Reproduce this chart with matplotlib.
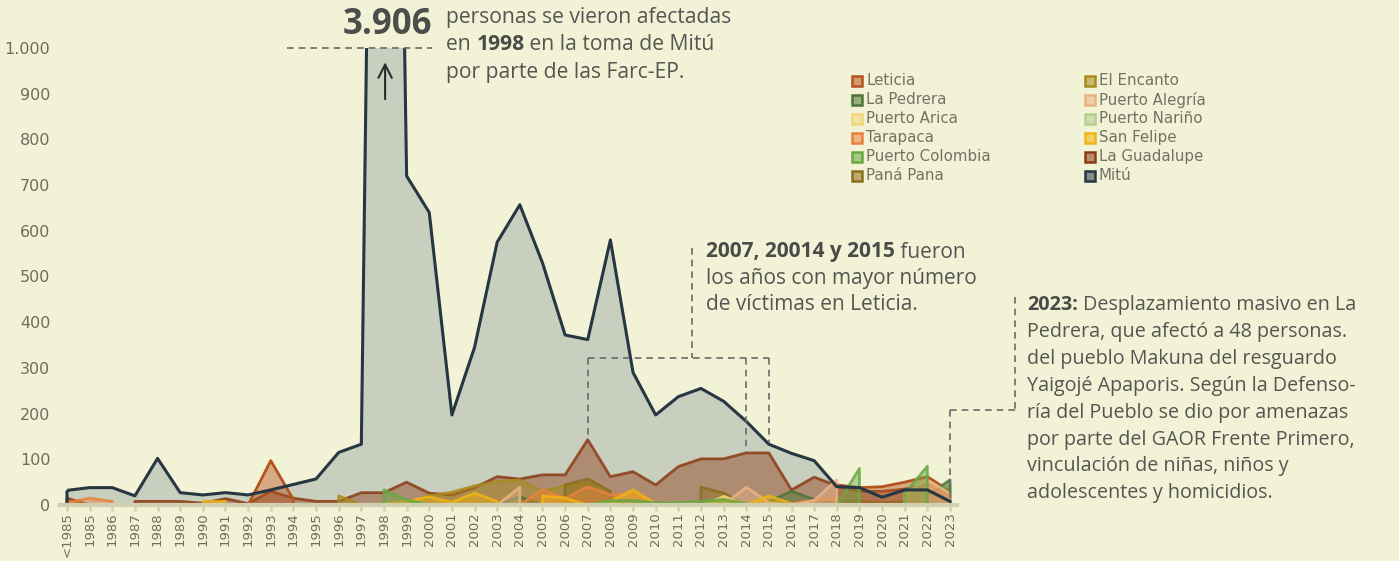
import numpy as np
import matplotlib
matplotlib.use('Agg')
import matplotlib.pyplot as plt
from matplotlib.colors import to_rgba
from matplotlib.patches import Rectangle
from matplotlib.ticker import FuncFormatter

N = None

years = ["<1985"] + [str(y) for y in range(1985, 2024)]

# victims per municipality, one value per year (None = no record)
mitu = [32, 38, 38, 20, 102, 27, 22, 27, 22, 33, 45, 57, 115, 133, 3906, 720, 640, 197, 345, 575,
        657, 530, 372, 362, 580, 290, 197, 237, 255, 227, 183, 133, 113, 97, 40, 38, 17, 33, 33, 8]
la_guadalupe = [15, 0, N, 8, 8, 8, 4, 14, 3, 30, 15, 8, 8, 27, 27, 50, 26, 22, 38, 62,
                57, 66, 66, 143, 62, 73, 44, 84, 101, 101, 114, 114, 33, 61, 42, 30, 30, 35, 45, 20]
leticia = [N, N, N, N, N, N, N, N, 0, 97, 12, N, N, N, N, N, N, N, N, N,
           N, N, N, N, N, N, N, N, N, N, N, N, N, N, 44, 38, 40, 50, 62, 30]
el_encanto = [N, N, N, N, N, N, N, N, N, N, N, N, 20, 0, N, 0, 20, 28, 42, 51,
              55, 30, 42, 48, 18, 0, N, N, N, N, N, N, N, N, N, N, N, N, N, N]
pana_pana = [N, N, N, N, N, N, N, N, N, N, N, N, N, N, N, N, N, N, N, N,
             N, N, 44, 57, 30, N, N, N, 39, 26, 0, N, N, N, 8, 8, 5, 8, 5, 3]
puerto_arica = [N, N, N, N, N, N, N, N, N, N, N, N, N, N, N, N, N, N, N, N,
                N, N, N, N, N, N, N, N, 0, 20, 0, N, N, N, N, N, N, N, N, N]
puerto_narino = [N, N, N, N, N, N, N, N, N, N, N, N, N, N, N, N, N, N, N, N,
                 N, N, N, N, N, N, N, N, N, N, N, N, N, N, N, N, N, N, 35, 45]
la_pedrera = [N, N, N, N, N, N, N, N, N, N, N, N, N, N, N, N, N, N, N, 0,
              18, 0, N, N, N, 3, 5, 0, N, N, N, 8, 30, 12, 3, N, N, N, 20, 55]
tarapaca = [5, 15, 8, N, N, N, N, N, N, N, N, N, N, N, N, N, N, N, N, N,
            0, 33, 15, 40, 22, 26, 0, N, N, N, N, N, 3, 10, 15, N, N, 20, 45, 18]
puerto_alegria = [N, N, N, N, N, N, N, N, N, N, N, N, N, N, N, N, N, N, N, 0,
                  39, N, N, N, N, N, N, N, N, 0, 39, 5, 0, 10, 55, N, N, 25, 55, 25]
san_felipe = [N, N, N, N, N, N, 8, 8, N, N, N, N, N, N, 3, 8, 18, 6, 26, 8,
              N, 20, 15, 0, 8, 33, 3, 0, 0, 12, 0, 20, 3, N, N, N, N, N, N, N]
puerto_colombia = [N, N, N, N, N, N, N, N, N, N, N, N, N, N, 33, 12, 0, N, N, N,
                   N, N, N, 0, 10, 10, 5, 5, 8, 12, 3, N, N, N, 0, 80, N, 25, 85, N]

colors = {
    "Leticia": "#b5541e", "El Encanto": "#a88a1e", "La Pedrera": "#4e7535",
    "Puerto Alegría": "#eab384", "Puerto Arica": "#f0d77c", "Puerto Nariño": "#b5cf90",
    "Tarapaca": "#e8823c", "San Felipe": "#f0b414", "Puerto Colombia": "#6aa843",
    "La Guadalupe": "#8c3c14", "Paná Pana": "#8c6e1c", "Mitú": "#263642",
}

# back-to-front drawing order for the small municipalities
layers = [
    ("La Guadalupe", la_guadalupe), ("El Encanto", el_encanto), ("Paná Pana", pana_pana),
    ("Leticia", leticia), ("Puerto Arica", puerto_arica), ("Puerto Nariño", puerto_narino),
    ("La Pedrera", la_pedrera), ("Tarapaca", tarapaca), ("Puerto Alegría", puerto_alegria),
    ("San Felipe", san_felipe), ("Puerto Colombia", puerto_colombia),
]

legend_col1 = ["Leticia", "La Pedrera", "Puerto Arica", "Tarapaca", "Puerto Colombia", "Paná Pana"]
legend_col2 = ["El Encanto", "Puerto Alegría", "Puerto Nariño", "San Felipe", "La Guadalupe", "Mitú"]

BG = "#f2f3d6"
W, H = 1399, 561
TICK_FONT = "DejaVu Sans"
NOTE_FONT = "Open Sans"
GREY = "#6d6d60"


def as_array(values):
    return np.array([np.nan if v is None else v for v in values], dtype=float)


def fx(px):
    return px / W


def fy(py):
    return 1 - py / H


fig = plt.figure(figsize=(W / 100, H / 100), dpi=100, facecolor=BG)
ax = fig.add_axes([60.2 / W, 56 / H, 896.6 / W, 457 / H], facecolor=BG)
x = np.arange(len(years))

# Mitú in the back, its outline goes on top of everything at the end
ax.fill_between(x, 0, as_array(mitu), facecolor="#c9cfbf", edgecolor="none", zorder=1)

for i, (name, values) in enumerate(layers):
    c = colors[name]
    edge_alpha = 1.0 if name == "Leticia" else 0.85
    ax.fill_between(x, 0, as_array(values), facecolor=to_rgba(c, 0.45),
                    edgecolor=to_rgba(c, edge_alpha), linewidth=2, zorder=2 + i * 0.1)

ax.fill_between(x, 0, as_array(mitu), facecolor="none", edgecolor=colors["Mitú"],
                linewidth=2.2, zorder=5)

ax.axhline(0, color="#d3cfb2", lw=3, zorder=6, clip_on=False)

ax.set_xlim(-0.3, len(years) - 0.7)
ax.set_ylim(0, 1000)
ax.set_xticks(x)
ax.set_xticklabels(years, rotation=90, fontsize=9.5, color=GREY, family=TICK_FONT)
ax.set_yticks(range(0, 1001, 100))
ax.yaxis.set_major_formatter(FuncFormatter(lambda v, p: f"{int(v):,}".replace(",", ".")))
for lab in ax.get_yticklabels():
    lab.set_family(TICK_FONT)
ax.tick_params(axis="y", length=0, pad=7, labelsize=11.5, labelcolor=GREY)
ax.tick_params(axis="x", length=4, width=2, color="#d8d4b8", pad=1)
for s in ax.spines.values():
    s.set_visible(False)

# 1998 spike marker
ax.annotate("", xy=(14.05, 975), xytext=(14.05, 882),
            arrowprops=dict(arrowstyle="->", color="#2b2b2b", lw=1.5, mutation_scale=24),
            zorder=8)

dash = dict(color="#6b6b6b", lw=1.2, dashes=(4, 3), clip_on=False, zorder=7)
ax.plot([9.7, 16.1], [1000, 1000], **dash)
ax.plot([27.6, 27.6], [562, 322], **dash)
ax.plot([23, 31], [322, 322], **dash)
ax.plot([23, 23], [322, 147], **dash)
ax.plot([30, 30], [322, 117], **dash)
ax.plot([31, 31], [322, 136], **dash)
ax.plot([41.85, 41.85], [455, 208], **dash)
ax.plot([39, 41.85], [208, 208], **dash)
ax.plot([39, 39], [208, 12], **dash)

renderer = fig.canvas.get_renderer()


def text_width(s, **kw):
    t = fig.text(0, 0, s, **kw)
    w = t.get_window_extent(renderer).width
    t.remove()
    return w


def rich_line(px, py, parts, size=14):
    # draw a line made of (text, weight) pieces side by side
    cur = px
    for s, weight in parts:
        kw = dict(fontsize=size, fontweight=weight, family=NOTE_FONT)
        color = "#4a4a48" if weight == "bold" else "#555552"
        fig.text(fx(cur), fy(py), s, ha="left", va="center", color=color, **kw)
        cur += text_width("|" + s + "|", **kw) - text_width("||", **kw)


fig.text(fx(432), fy(25), "3.906", ha="right", va="center", fontsize=25,
         fontweight="bold", color="#4d4d4b", family=NOTE_FONT)

n, b = "normal", "bold"
note_1998 = [
    [("personas se vieron afectadas", n)],
    [("en ", n), ("1998", b), (" en la toma de Mitú", n)],
    [("por parte de las Farc-EP.", n)],
]
for k, parts in enumerate(note_1998):
    rich_line(446, 18 + k * 27, parts, size=15.2)

note_leticia = [
    [("2007, 20014 y 2015", b), (" fueron", n)],
    [("los años con mayor número", n)],
    [("de víctimas en Leticia.", n)],
]
for k, parts in enumerate(note_leticia):
    rich_line(706, 252 + k * 26.5, parts, size=15)

note_pedrera = [
    [("2023:", b), (" Desplazamiento masivo en La", n)],
    [("Pedrera, que afectó a 48 personas.", n)],
    [("del pueblo Makuna del resguardo", n)],
    [("Yaigojé Apaporis. Según la Defenso-", n)],
    [("ría del Pueblo se dio por amenazas", n)],
    [("por parte del GAOR Frente Primero,", n)],
    [("vinculación de niñas, niños y", n)],
    [("adolescentes y homicidios.", n)],
]
for k, parts in enumerate(note_pedrera):
    rich_line(1027, 305 + k * 26.9, parts, size=14.2)

# legend, two columns filled row by row
for col, (names, mx) in enumerate([(legend_col1, 852), (legend_col2, 1085)]):
    for r, name in enumerate(names):
        cy = 80.7 + r * 19
        c = colors[name]
        fig.patches.append(Rectangle((fx(mx), fy(cy + 5)), 10 / W, 10 / H,
                                     transform=fig.transFigure, facecolor=to_rgba(c, 0.55),
                                     edgecolor=c, lw=1.8))
        fig.text(fx(mx + 14), fy(cy), name, ha="left", va="center", fontsize=10.8,
                 color="#727264", family=TICK_FONT)

fig.savefig("out.png", dpi=100, facecolor=BG)
